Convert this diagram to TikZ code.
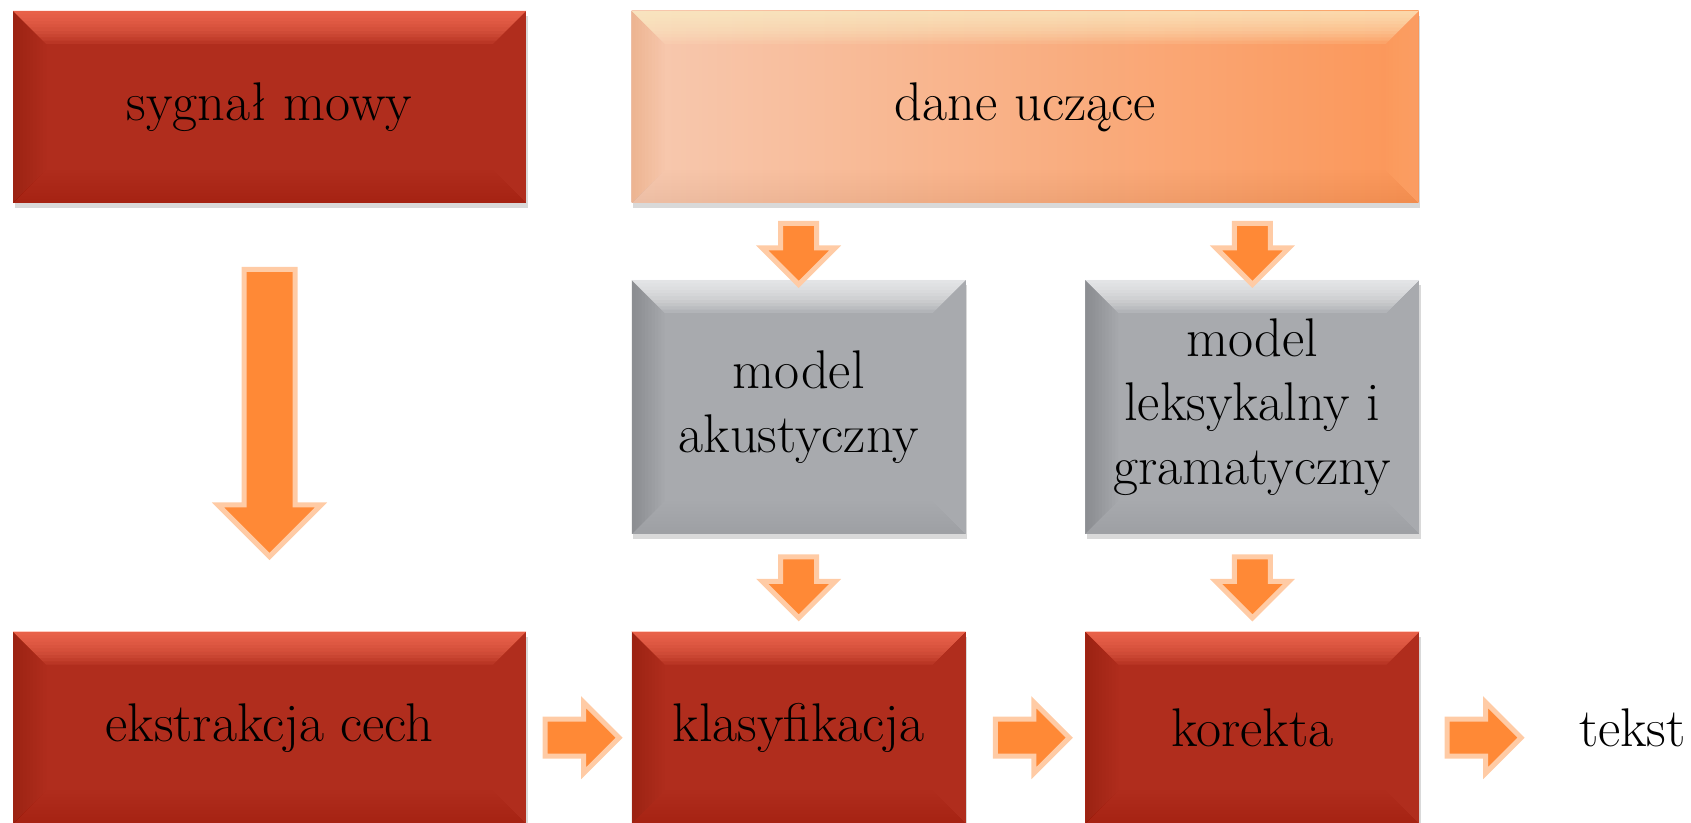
\documentclass[tikz,border=0pt]{standalone}
\usepackage{tikz}
\usetikzlibrary{positioning,shapes.arrows,shadows}

\definecolor{redbase}{RGB}{176,45,29}
\definecolor{redtop}{RGB}{255,118,92}
\definecolor{redside}{RGB}{110,20,10}
\definecolor{graybase}{RGB}{168,170,174}
\definecolor{graytop}{RGB}{250,251,252}
\definecolor{grayside}{RGB}{60,62,66}
\definecolor{danel}{RGB}{247,201,176}
\definecolor{daner}{RGB}{251,150,88}
\definecolor{danetop}{RGB}{255,240,200}
\definecolor{daneside}{RGB}{225,120,60}
\definecolor{arrfill}{RGB}{255,137,54}
\definecolor{arredge}{RGB}{255,203,165}

\newcommand{\bev}{0.66cm}

\tikzset{
  box/.style={rectangle, inner sep=0pt, align=center,
    font=\fontsize{31}{36.5}\selectfont,
    drop shadow={shadow xshift=0.03cm, shadow yshift=-0.11cm, opacity=0.3}},
  bevel/.style={path picture={
    \foreach \d in {1,...,10} {
      \fill[#1top, opacity=0.13] (path picture bounding box.north west)
        -- (path picture bounding box.north east)
        -- ([xshift=-\d*\bev/10,yshift=-\d*\bev/10]path picture bounding box.north east)
        -- ([xshift=\d*\bev/10,yshift=-\d*\bev/10]path picture bounding box.north west) -- cycle;
      \fill[#1side, opacity=0.024] (path picture bounding box.north west)
        -- ([xshift=\d*\bev/10,yshift=-\d*\bev/10]path picture bounding box.north west)
        -- ([xshift=\d*\bev/10,yshift=\d*\bev/10]path picture bounding box.south west)
        -- (path picture bounding box.south west) -- cycle;
      \fill[#1top, opacity=0.012] (path picture bounding box.north east)
        -- ([xshift=-\d*\bev/10,yshift=-\d*\bev/10]path picture bounding box.north east)
        -- ([xshift=-\d*\bev/10,yshift=\d*\bev/10]path picture bounding box.south east)
        -- (path picture bounding box.south east) -- cycle;
      \fill[#1side, opacity=0.007] (path picture bounding box.south west)
        -- ([xshift=\d*\bev/10,yshift=\d*\bev/10]path picture bounding box.south west)
        -- ([xshift=-\d*\bev/10,yshift=\d*\bev/10]path picture bounding box.south east)
        -- (path picture bounding box.south east) -- cycle;
    }
  }},
  redbox/.style={box, fill=redbase, bevel=red},
  graybox/.style={box, fill=graybase, bevel=gray},
  danebox/.style={box, left color=danel, right color=daner, bevel=dane},
  blockarr/.style={single arrow, fill=arrfill, draw=arredge, line width=0.1cm,
    inner xsep=0pt, single arrow tip angle=90},
  bigarr/.style={blockarr, rotate=-90, minimum height=5.74cm, inner ysep=0.46cm,
    single arrow head extend=0.52cm},
  downarr/.style={blockarr, rotate=-90, minimum height=1.22cm, inner ysep=0.31cm,
    single arrow head extend=0.37cm},
  rightarr/.style={blockarr, minimum height=1.48cm, inner ysep=0.32cm,
    single arrow head extend=0.34cm, yshift=-0.2cm}
}

\begin{document}
\begin{tikzpicture}
  \useasboundingbox (0,0) rectangle (33.82,-16.46);

  \node[redbox, minimum width=10.26cm, minimum height=3.84cm](sygnal) at (5.39,-2.14){sygnał mowy};
  \node[danebox, minimum width=15.74cm, minimum height=3.84cm](dane)[right=2.1cm of sygnal]{dane uczące};
  \node[redbox, minimum width=10.26cm, minimum height=3.84cm](ekstr)[below=8.56cm of sygnal]{ekstrakcja cech};
  \node[redbox, minimum width=6.68cm, minimum height=3.84cm](klas)[right=2.1cm of ekstr]{klasyfikacja};
  \node[redbox, minimum width=6.68cm, minimum height=3.84cm](korekta)[right=2.38cm of klas]{korekta};
  \node[graybox, minimum width=6.68cm, minimum height=5.08cm](akust)[above=1.94cm of klas]{model\\akustyczny};
  \node[graybox, minimum width=6.68cm, minimum height=5.08cm](leks)[above=1.94cm of korekta]{model\\leksykalny i\\gramatyczny};
  \node[font=\fontsize{31}{36.5}\selectfont, inner sep=0pt](tekst)[right=3.18cm of korekta]{tekst};

  \path (sygnal) -- node[bigarr, pos=.46]{} (ekstr);
  \path (dane.south -| akust.north) -- node[downarr, pos=.545]{} (akust.north);
  \path (dane.south -| leks.north) -- node[downarr, pos=.545]{} (leks.north);
  \path (akust) -- node[downarr, pos=.454]{} (klas);
  \path (leks) -- node[downarr, pos=.454]{} (korekta);
  \path (ekstr) -- node[rightarr, pos=.443]{} (klas);
  \path (klas) -- node[rightarr, pos=.479]{} (korekta);
  \path (korekta) -- node[rightarr, pos=.346]{} (tekst);
\end{tikzpicture}
\end{document}
